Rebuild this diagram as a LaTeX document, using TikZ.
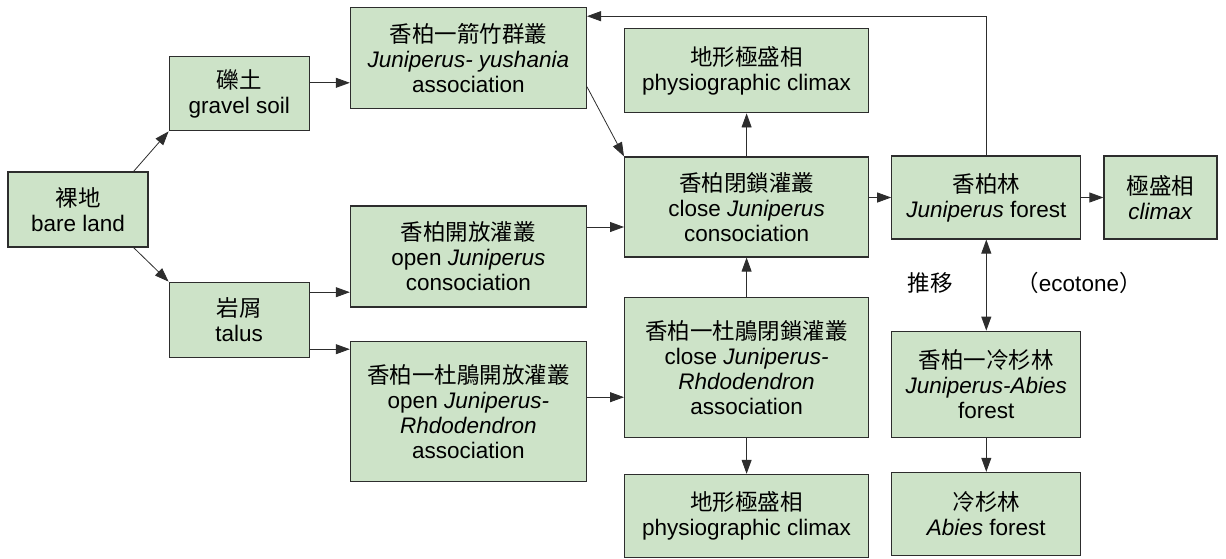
\documentclass[tikz,border=0pt]{standalone}
\usepackage{fontspec}
\setmainfont{Liberation Sans}
\newfontfamily\cjk{Noto Sans CJK TC}
\usepackage{xcolor}
\usepackage{tikz}
\usetikzlibrary{positioning, arrows.meta, calc}
\definecolor{boxgreen}{RGB}{205,227,200}
\definecolor{edge}{RGB}{45,45,45}
\tikzset{
  box/.style={draw=edge, line width=1.2pt, fill=boxgreen, align=center, inner sep=2pt,
    font=\fontsize{22.5}{25}\selectfont},
  flow/.style={-{Triangle[length=14pt, width=10pt]}, line width=0.8pt, draw=edge},
  twoway/.style={{Triangle[length=14pt, width=10pt]}-{Triangle[length=14pt, width=10pt]}, line width=0.8pt, draw=edge},
}

\begin{document}
\begin{tikzpicture}
  \useasboundingbox (0,0) rectangle (1226pt,-558pt);
  % left part
  \node[box, minimum width=140pt, minimum height=75pt] (bare) at (78pt,-209.5pt) {{\cjk 裸地}\\bare land};
  \node[box, minimum width=140pt, minimum height=74pt, above right=40pt and 20pt of bare] (gravel) {{\cjk 礫土}\\gravel soil};
  \node[box, minimum width=140pt, minimum height=75pt, below right=34pt and 20pt of bare] (talus) {{\cjk 岩屑}\\talus};
  \node[box, minimum width=236pt, minimum height=101pt, right=40pt of gravel, yshift=35.5pt] (yushania) {{\cjk 香柏一箭竹群叢}\\\textit{Juniperus- yushania}\\association};
  \node[box, minimum width=236pt, minimum height=101pt, below=96pt of yushania] (openJ) {{\cjk 香柏開放灌叢}\\open \textit{Juniperus}\\consociation};
  \node[box, minimum width=236pt, minimum height=140pt, below=33pt of openJ] (openJR) {{\cjk 香柏一杜鵑開放灌叢}\\open \textit{Juniperus-}\\\textit{Rhdodendron}\\association};
  % middle column
  \node[box, minimum width=244pt, minimum height=84pt, right=37pt of yushania, yshift=-12.5pt] (physioTop) {{\cjk 地形極盛相}\\physiographic climax};
  \node[box, minimum width=244pt, minimum height=100pt, below=43pt of physioTop] (closeJ) {{\cjk 香柏閉鎖灌叢}\\close \textit{Juniperus}\\consociation};
  \node[box, minimum width=244pt, minimum height=140pt, below=39pt of closeJ] (closeJR) {{\cjk 香柏一杜鵑閉鎖灌叢}\\close \textit{Juniperus-}\\\textit{Rhdodendron}\\association};
  \node[box, minimum width=244pt, minimum height=83pt, below=36pt of closeJR] (physioBot) {{\cjk 地形極盛相}\\physiographic climax};
  % right part
  \node[box, minimum width=189pt, minimum height=83pt, right=22pt of closeJ, yshift=9.5pt] (jforest) {{\cjk 香柏林}\\\textit{Juniperus} forest};
  \node[box, minimum width=113pt, minimum height=83pt, right=22pt of jforest] (climax) {{\cjk 極盛相}\\\textit{climax}};
  \node[box, minimum width=189pt, minimum height=106pt, below=91pt of jforest] (jabies) {{\cjk 香柏一冷杉林}\\\textit{Juniperus-Abies}\\forest};
  \node[box, minimum width=189pt, minimum height=83pt, below=34pt of jabies] (abies) {{\cjk 冷杉林}\\\textit{Abies} forest};
  \node[font=\fontsize{22.5}{25}\selectfont] (shift) at (930pt,-283pt) {\cjk 推移};
  \node[font=\fontsize{22.5}{25}\selectfont] (ecotone) at (1079pt,-283pt) {{\cjk （}ecotone{\cjk ）}};
  % connectors
  \draw[flow] ([xshift=-15pt]bare.north east) -- (gravel.south west);
  \draw[flow] ([xshift=-15pt]bare.south east) -- (talus.north west);
  \draw[flow] ([yshift=11pt]gravel.east) -- ([yshift=11pt]gravel.east -| yushania.west);
  \draw[flow] ([yshift=27.5pt]talus.east) -- ([yshift=27.5pt]talus.east -| openJ.west);
  \draw[flow] ([yshift=-29.5pt]talus.east) -- ([yshift=-29.5pt]talus.east -| openJR.west);
  \draw[flow] ([yshift=-28.5pt]yushania.east) -- (closeJ.north west);
  \draw[flow] ([yshift=29.5pt]openJ.east) -- ([yshift=29.5pt]openJ.east -| closeJ.west);
  \draw[flow] ([yshift=14pt]openJR.east) -- ([yshift=14pt]openJR.east -| closeJR.west);
  \draw[flow] (closeJ) -- (physioTop);
  \draw[flow] (closeJR) -- (closeJ);
  \draw[flow] (closeJR) -- (physioBot);
  \draw[flow] (closeJ.east |- jforest) -- (jforest.west);
  \draw[flow] (jforest) -- (climax);
  \draw[twoway] (jforest) -- (jabies);
  \draw[flow] (jabies) -- (abies);
  \draw[flow] (jforest.north) |- ([yshift=-9pt]yushania.north east);
\end{tikzpicture}
\end{document}
